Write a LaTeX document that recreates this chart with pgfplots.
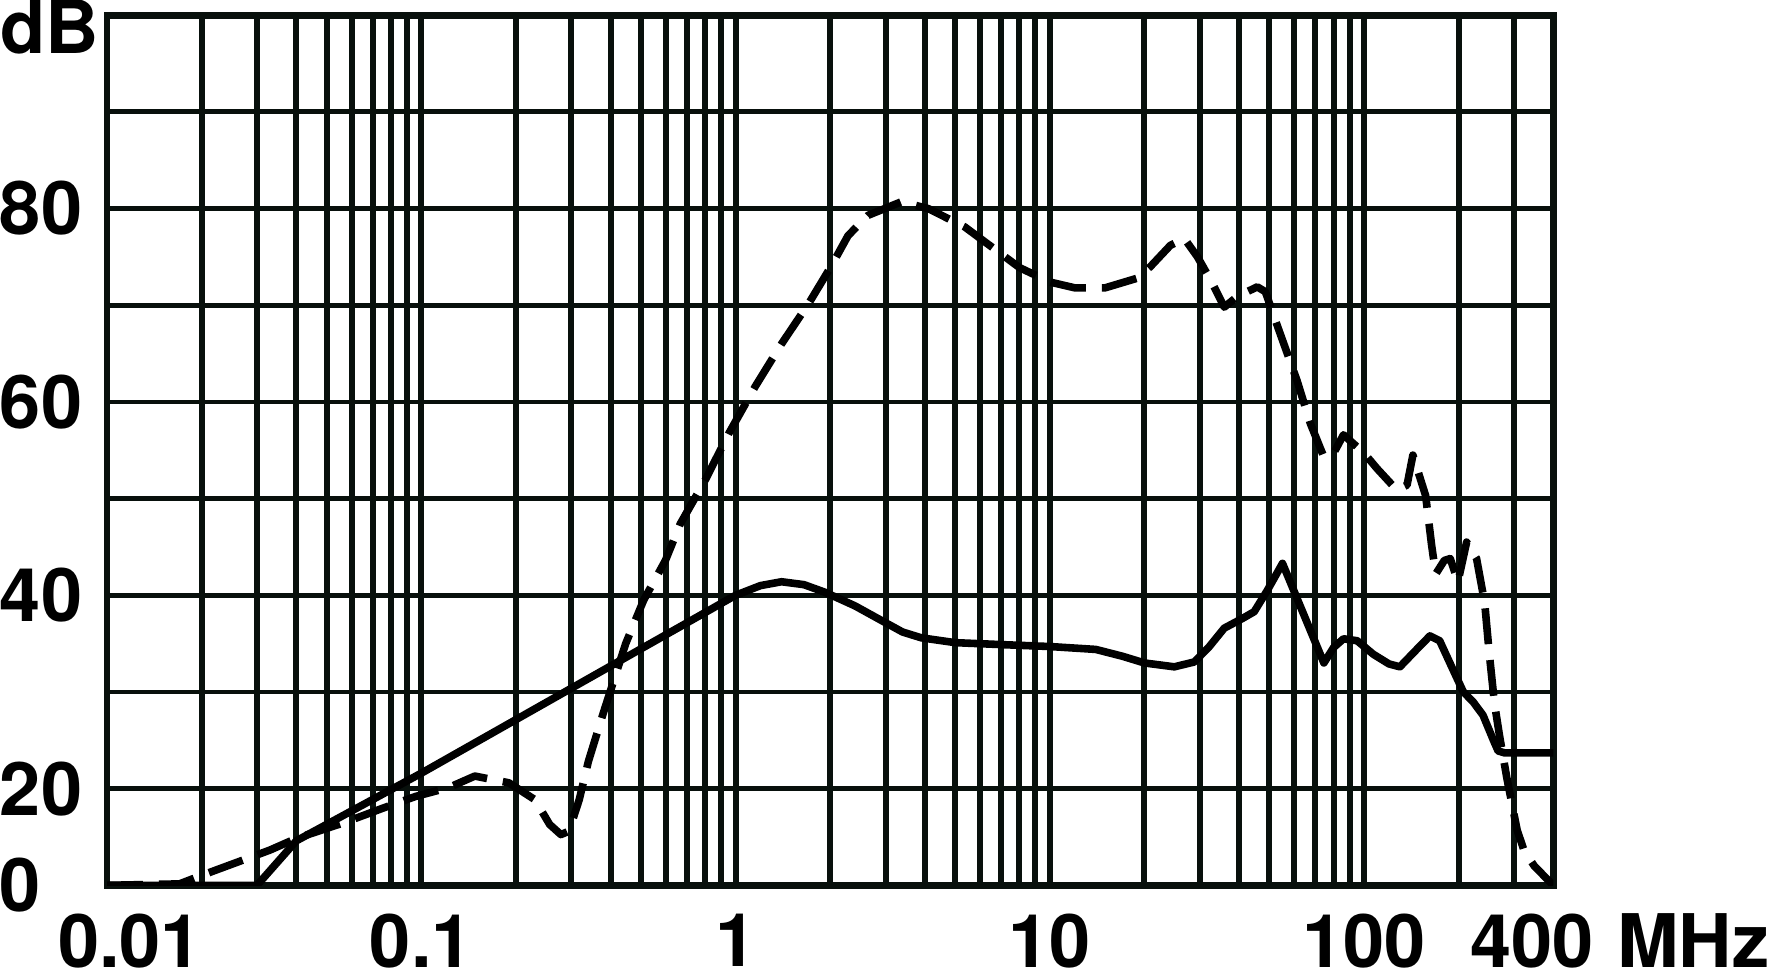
\documentclass[border=0pt]{standalone}
\usepackage{fontspec}
\setmainfont{TeX Gyre Heros}
\usepackage{pgfplots}
\pgfplotsset{compat=1.18}
\definecolor{gridc}{RGB}{8,16,12}
\pgfplotstableread{
f db
0.01 0
0.03 0
0.04 9.2
0.1 21.6
1.0 40.0
1.2 41.0
1.4 41.4
1.65 41.1
1.93 40.3
2.4 38.9
2.91 37.4
3.4 36.2
3.9 35.6
5.0 35.1
7.0 34.9
10 34.7
14 34.4
17 33.7
20 33.0
24.9 32.6
28.8 33.1
32 34.6
35.9 36.6
41 37.6
44.7 38.3
49.2 40.5
55 43.3
74.5 33.0
80 34.6
86 35.5
95 35.3
107 33.9
120 32.9
130 32.6
145 34.2
162 35.8
174 35.3
190 32.6
207 30.0
222 29.0
239 27.6
258 25.0
267 23.9
280 23.7
400 23.7
}\solid
\pgfplotstableread{
f db
0.01 0
0.017 0.3
0.0197 1.9
0.0265 5.0
0.033 7.3
0.04 9.7
0.057 13.0
0.075 15.9
0.096 18.4
0.122 20.1
0.148 21.3
0.19 20.6
0.23 17.7
0.256 12.6
0.278 10.5
0.295 11.2
0.318 17.7
0.34 22.8
0.38 27.9
0.447 35.0
0.51 39.5
0.598 43.6
0.667 47.4
0.80 51.9
0.95 56.7
1.155 61.6
1.40 66.0
1.71 70.2
2.02 74.1
2.28 77.2
2.64 79.3
3.37 80.7
4.10 80.0
5.36 78.1
6.74 75.7
8.0 73.9
10 72.4
12 71.8
15 71.8
19 72.8
20.9 74.0
24.2 76.2
26.8 76.9
29.5 75.0
32.5 72.6
35.9 69.8
39.5 70.9
45.7 71.9
48.5 71.4
53.6 67.4
61.2 62.2
67.4 57.8
74.5 54.3
80 54.7
86 56.6
100 54.7
110 53.1
127 50.9
137 51.4
143 54.5
157 50.3
164 45.2
169 42.2
180 43.6
188 43.8
199 41.4
212 45.5
228 43.8
242 39.2
250 34.1
260 28.8
270 25.4
285 21.0
307 11.4
323 7.2
348 4.0
389 0.8
400 0
}\dashed
\begin{document}
\begin{tikzpicture}[font=\fontsize{18.5}{20}\selectfont\bfseries]
\begin{axis}[
  name=ax,
  scale only axis,
  width=361.9pt, height=217.75pt,
  xmode=log, log basis x=10,
  xmin=0.01, xmax=400,
  ymin=10, ymax=100,
  y filter/.expression={y<20 ? y/2+10 : y},
  xtick={0.01,0.1,1,10,100,400},
  xticklabels={{\hspace*{11.5pt}0.01},0.1,1,10,100,{\hspace*{33.3pt}400\hspace{5.8pt}MHz}},
  minor xtick={0.02,0.03,0.04,0.05,0.06,0.07,0.08,0.09,0.2,0.3,0.4,0.5,0.6,0.7,0.8,0.9,2,3,4,5,6,7,8,9,20,30,40,50,60,70,80,90,200,300},
  ytick={10,20,30,40,50,60,70,80,90,100},
  yticklabels={0,20,,40,,60,,80,,},
  grid=both,
  major x grid style={gridc, line width=1.5pt},
  minor x grid style={gridc, line width=1.5pt},
  major y grid style={gridc, line width=1.2pt},
  major tick length=0pt, minor tick length=0pt,
  axis line style={gridc, line width=1.7pt},
  xticklabel style={anchor=north, inner sep=0pt, yshift=-7pt},
  yticklabel style={anchor=west, inner sep=0pt, xshift=-27pt},
]
\addplot[black, line width=1.9pt, line join=round] table[x=f, y=db] {\solid};
\addplot[black, line width=1.9pt, line join=round, dash pattern=on 9pt off 4pt] table[x=f, y=db] {\dashed};
\end{axis}
\node[anchor=north west, inner sep=0pt] at ([xshift=-27pt, yshift=4pt]ax.north west) {dB};
\path ([yshift=-1pt]current bounding box.south) -- ([yshift=-1pt]current bounding box.south);
\end{tikzpicture}
\end{document}
